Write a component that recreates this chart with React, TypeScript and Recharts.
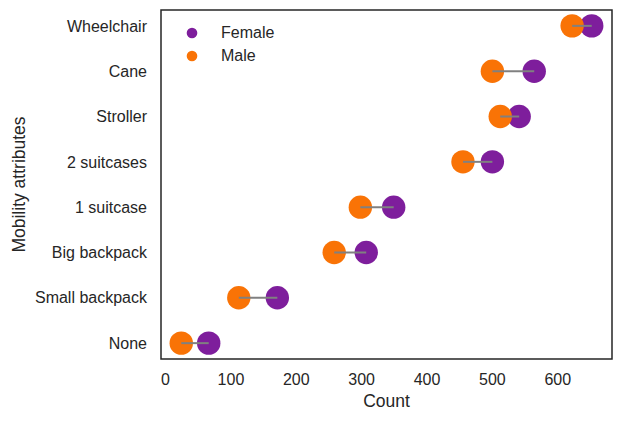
import React from 'react';
import { ScatterChart, Scatter, XAxis, YAxis, ReferenceArea, Legend } from 'recharts';

const categories = ['Wheelchair', 'Cane', 'Stroller', '2 suitcases', '1 suitcase', 'Big backpack', 'Small backpack', 'None'];
const femaleCounts = [652, 564, 541, 500, 349, 307, 171, 66];
const maleCounts = [622, 500, 512, 455, 298, 258, 112, 24];
const xTicks = [0, 100, 200, 300, 400, 500, 600];

const FEMALE = '#7e1e9c';
const MALE = '#f97306';
const TEXT = '#262626';
const FONT = '"Liberation Sans", Arial, sans-serif';

const n = categories.length;
const rowIndex = categories.map((_, i) => n - 1 - i);
const femaleData = categories.map((c, i) => ({ name: c, x: femaleCounts[i], y: rowIndex[i] }));
const maleData = categories.map((c, i) => ({ name: c, x: maleCounts[i], y: rowIndex[i] }));
const segmentData = categories.map((c, i) => [
  { name: c, x: maleCounts[i], y: rowIndex[i] },
  { name: c, x: femaleCounts[i], y: rowIndex[i] },
]);

const XMIN = -7;
const XMAX = 683;
const YMIN = -0.35;
const YMAX = n - 1 + 0.35;

const dot = (color: string) => (props: any) => (
  <circle cx={props.cx} cy={props.cy} r={11.7} fill={color} />
);
const noDot = () => <g />;

const LegendBox = () => (
  <div style={{ fontFamily: FONT, fontSize: 16, color: TEXT }}>
    {[['Female', FEMALE], ['Male', MALE]].map(([label, color]) => (
      <div key={label} style={{ display: 'flex', alignItems: 'center', height: 23 }}>
        <svg width={12} height={12} style={{ marginRight: 23 }}>
          <circle cx={6} cy={6} r={5.3} fill={color} />
        </svg>
        <span>{label}</span>
      </div>
    ))}
  </div>
);

export default function App() {
  return (
    <div style={{ width: 615, height: 405 }}>
      <ScatterChart width={615} height={405} margin={{ top: 2, right: 11, left: 0, bottom: 0 }}>
        <XAxis
          type="number"
          dataKey="x"
          domain={[XMIN, XMAX]}
          ticks={xTicks}
          allowDataOverflow
          axisLine={false}
          tickLine={false}
          tickSize={0}
          tickMargin={15}
          height={54}
          tick={{ fill: TEXT, fontSize: 16, fontFamily: FONT }}
          label={{ value: 'Count', position: 'center', dy: 15, fill: TEXT, fontSize: 17.5, fontFamily: FONT }}
        />
        <YAxis
          type="number"
          dataKey="y"
          domain={[YMIN, YMAX]}
          ticks={rowIndex.slice().reverse()}
          allowDataOverflow
          axisLine={false}
          tickLine={false}
          tickSize={0}
          tickMargin={14}
          width={153}
          tickFormatter={(v: number) => categories[n - 1 - v]}
          tick={{ fill: TEXT, fontSize: 16, fontFamily: FONT }}
          label={{ value: 'Mobility attributes', angle: -90, position: 'center', dx: -66, fill: TEXT, fontSize: 17.5, fontFamily: FONT }}
        />
        <Legend
          layout="vertical"
          align="center"
          verticalAlign="middle"
          content={() => <LegendBox />}
          wrapperStyle={{ position: 'absolute', left: 178, top: 13, width: 120 }}
        />
        <ReferenceArea x1={XMIN} x2={XMAX} y1={YMIN} y2={YMAX} fill="none" fillOpacity={0} stroke={TEXT} strokeWidth={1.5} strokeOpacity={1} />
        <Scatter name="Female" data={femaleData} fill={FEMALE} shape={dot(FEMALE)} isAnimationActive={false} />
        <Scatter name="Male" data={maleData} fill={MALE} shape={dot(MALE)} isAnimationActive={false} />
        {segmentData.map((seg, i) => (
          <Scatter
            key={categories[i]}
            data={seg}
            line={{ stroke: '#808080', strokeWidth: 2 }}
            shape={noDot}
            legendType="none"
            isAnimationActive={false}
          />
        ))}
      </ScatterChart>
    </div>
  );
}
